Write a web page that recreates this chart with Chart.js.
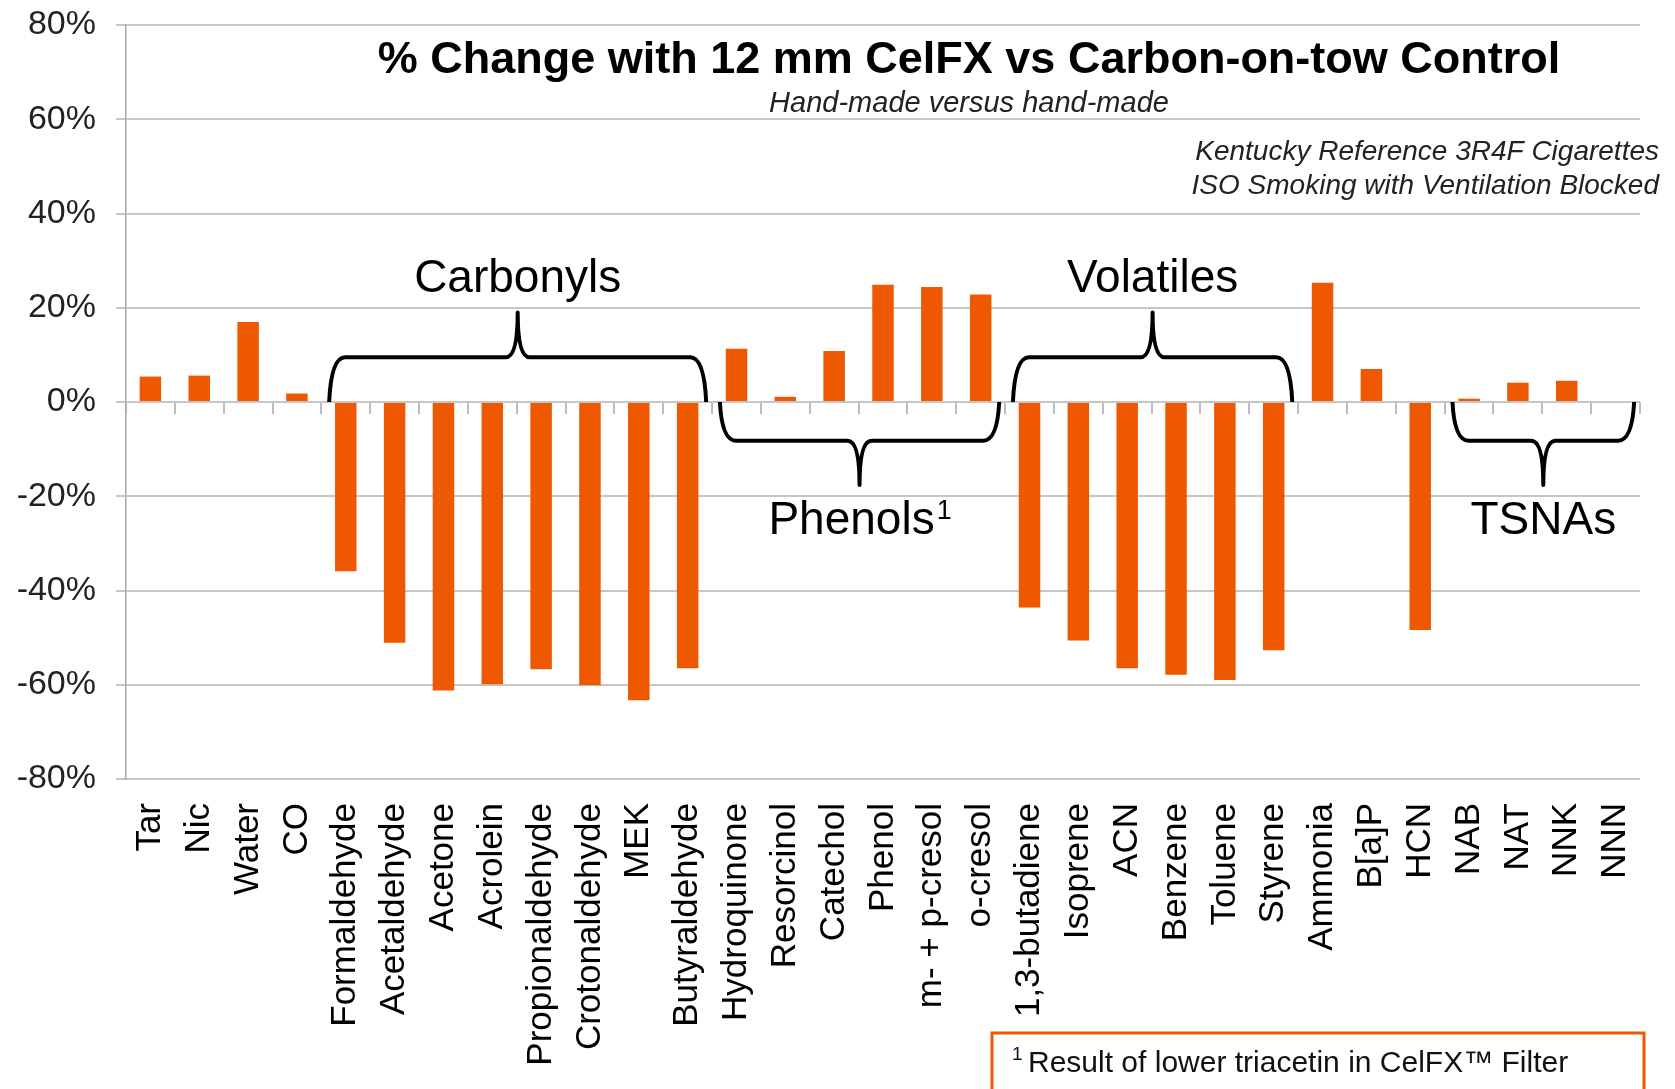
<!DOCTYPE html>
<html>
<head>
<meta charset="utf-8">
<script src="https://cdn.jsdelivr.net/npm/chart.js@4.4.1/dist/chart.umd.min.js"></script>
<style>
  html, body { margin: 0; padding: 0; background: #fff; }
</style>
</head>
<body>
<canvas id="celfx_chart" width="1675" height="1089"></canvas>
<script>
// % change, 12 mm CelFX vs carbon-on-tow control

const categories = ['Tar', 'Nic', 'Water', 'CO', 'Formaldehyde', 'Acetaldehyde', 'Acetone', 'Acrolein',
    'Propionaldehyde', 'Crotonaldehyde', 'MEK', 'Butyraldehyde', 'Hydroquinone', 'Resorcinol', 'Catechol',
    'Phenol', 'm- + p-cresol', 'o-cresol', '1,3-butadiene', 'Isoprene', 'ACN', 'Benzene', 'Toluene', 'Styrene',
    'Ammonia', 'B[a]P', 'HCN', 'NAB', 'NAT', 'NNK', 'NNN'];

const pctChange = [5.4, 5.6, 17.0, 1.8, -35.9, -51.1, -61.2, -59.9,
    -56.7, -60.1, -63.3, -56.5, 11.3, 1.1, 10.8,
    24.9, 24.4, 22.8, -43.6, -50.6, -56.5, -57.9, -59.0, -52.7,
    25.3, 7.0, -48.4, 0.7, 4.1, 4.5, 0];

const yTicks = [80, 60, 40, 20, 0, -20, -40, -60, -80];

// compound groups marked with braces (first / last category index)
const groupNames = ['Carbonyls', 'Phenols', 'Volatiles', 'TSNAs'];
const groupFirst = [4, 12, 18, 27];
const groupLast = [11, 17, 23, 30];
const groupSide = ['up', 'down', 'up', 'down'];

const FONT = "'Liberation Sans', Arial, sans-serif";
const ORANGE = 'rgb(238, 88, 0)';

function drawBrace(ctx, x1, x2, xm, y0, yh, yt) {
    ctx.beginPath();
    ctx.moveTo(x1, y0);
    ctx.quadraticCurveTo(x1 + 2, yh, x1 + 16, yh);
    ctx.lineTo(xm - 12, yh);
    ctx.quadraticCurveTo(xm, yh, xm, yt);
    ctx.quadraticCurveTo(xm, yh, xm + 12, yh);
    ctx.lineTo(x2 - 16, yh);
    ctx.quadraticCurveTo(x2 - 2, yh, x2, y0);
    ctx.stroke();
}

const annotations = {
    id: 'annotations',
    afterDatasetsDraw(chart) {
        const ctx = chart.ctx;
        const xs = chart.scales.x;
        const ys = chart.scales.y;
        ctx.save();
        ctx.strokeStyle = '#000';
        ctx.lineWidth = 4;
        ctx.lineJoin = 'round';
        ctx.fillStyle = '#000';
        ctx.textAlign = 'center';
        ctx.textBaseline = 'middle';
        for (let i = 0; i < groupNames.length; i++) {
            const up = groupSide[i] === 'up';
            const x1 = xs.getPixelForValue(groupFirst[i] - 0.34);
            const x2 = xs.getPixelForValue(groupLast[i] + 0.38);
            const xm = (x1 + x2) / 2;
            const y0 = ys.getPixelForValue(0);
            const yh = ys.getPixelForValue(up ? 9.5 : -8.2);
            const yt = ys.getPixelForValue(up ? 19 : -17.6);
            drawBrace(ctx, x1, x2, xm, y0, yh, yt);

            const ly = ys.getPixelForValue(up ? 26 : -25.3);
            ctx.font = '46px ' + FONT;
            if (groupNames[i] === 'Phenols') {
                const w = ctx.measureText('Phenols').width;
                ctx.textAlign = 'left';
                ctx.fillText('Phenols', xm - w / 2 - 8, ly);
                ctx.font = '27px ' + FONT;
                ctx.fillText('1', xm + w / 2 - 6, ly - 10);
                ctx.textAlign = 'center';
            } else {
                ctx.fillText(groupNames[i], xm, ly);
            }
        }
        ctx.restore();
    },
    afterDraw(chart) {
        const ctx = chart.ctx;
        ctx.save();
        ctx.fillStyle = '#000';
        ctx.textBaseline = 'middle';
        ctx.textAlign = 'center';
        ctx.font = 'bold 45px ' + FONT;
        ctx.fillText('% Change with 12 mm CelFX vs Carbon-on-tow Control', 969, 61);
        ctx.fillStyle = '#222';
        ctx.font = 'italic 29px ' + FONT;
        ctx.fillText('Hand-made versus hand-made', 969, 104);
        ctx.textAlign = 'right';
        ctx.font = 'italic 28px ' + FONT;
        ctx.fillText('Kentucky Reference 3R4F Cigarettes', 1659, 152);
        ctx.fillText('ISO Smoking with Ventilation Blocked', 1659, 186);

        // footnote box
        ctx.fillStyle = '#fff';
        ctx.fillRect(992, 1033, 652, 60);
        ctx.strokeStyle = ORANGE;
        ctx.lineWidth = 3;
        ctx.strokeRect(992, 1033, 652, 60);
        ctx.fillStyle = '#111';
        ctx.textAlign = 'left';
        ctx.font = '19px ' + FONT;
        ctx.fillText('1', 1012, 1055);
        ctx.font = '30px ' + FONT;
        ctx.fillText('Result of lower triacetin in CelFX\u2122 Filter', 1028, 1064);
        ctx.restore();
    }
};

const celfx_data = {
    labels: categories,
    datasets: [{
        data: pctChange,
        backgroundColor: ORANGE,
        borderWidth: 0,
        barPercentage: 0.44,
        categoryPercentage: 1.0,
        xAxisID: 'x',
        yAxisID: 'y'
    }]
};

const celfx_config = {
    type: 'bar',
    data: celfx_data,
    plugins: [annotations],
    options: {
        responsive: false,
        animation: false,
        layout: {
            padding: { left: 0, right: 35, top: 25, bottom: 0 }
        },
        plugins: {
            legend: { display: false },
            title: { display: false },
            tooltip: { enabled: false }
        },
        scales: {
            x: {
                type: 'category',
                position: 'bottom',
                grid: { display: false },
                border: { display: false },
                ticks: {
                    color: '#000',
                    font: { family: FONT, size: 35 },
                    minRotation: 90,
                    maxRotation: 90,
                    autoSkip: false,
                    padding: 16
                },
                afterFit(scale) {
                    scale.height = 310;
                    scale.paddingLeft = 0;
                    scale.paddingRight = 0;
                }
            },
            x0: {
                type: 'category',
                position: { y: 0 },
                grid: {
                    drawOnChartArea: false,
                    drawTicks: true,
                    tickLength: 12,
                    color: '#bdbdbd',
                    lineWidth: 2,
                    offset: true
                },
                border: { display: false },
                ticks: { display: false }
            },
            y: {
                min: -80,
                max: 80,
                afterBuildTicks(scale) {
                    scale.ticks = yTicks.map(v => ({ value: v }));
                },
                grid: {
                    color: '#c6c6c6',
                    lineWidth: 2,
                    tickLength: 10
                },
                border: { display: true, color: '#a8a8a8', width: 1.5 },
                ticks: {
                    color: '#222',
                    font: { family: FONT, size: 34 },
                    padding: 20,
                    callback: v => v + '%'
                },
                afterFit(scale) {
                    scale.width = 126;
                    scale.paddingTop = 0;
                    scale.paddingBottom = 0;
                }
            }
        }
    }
};

const celfx_chart = new Chart(
    document.getElementById('celfx_chart'),
    celfx_config
);
</script>
</body>
</html>
